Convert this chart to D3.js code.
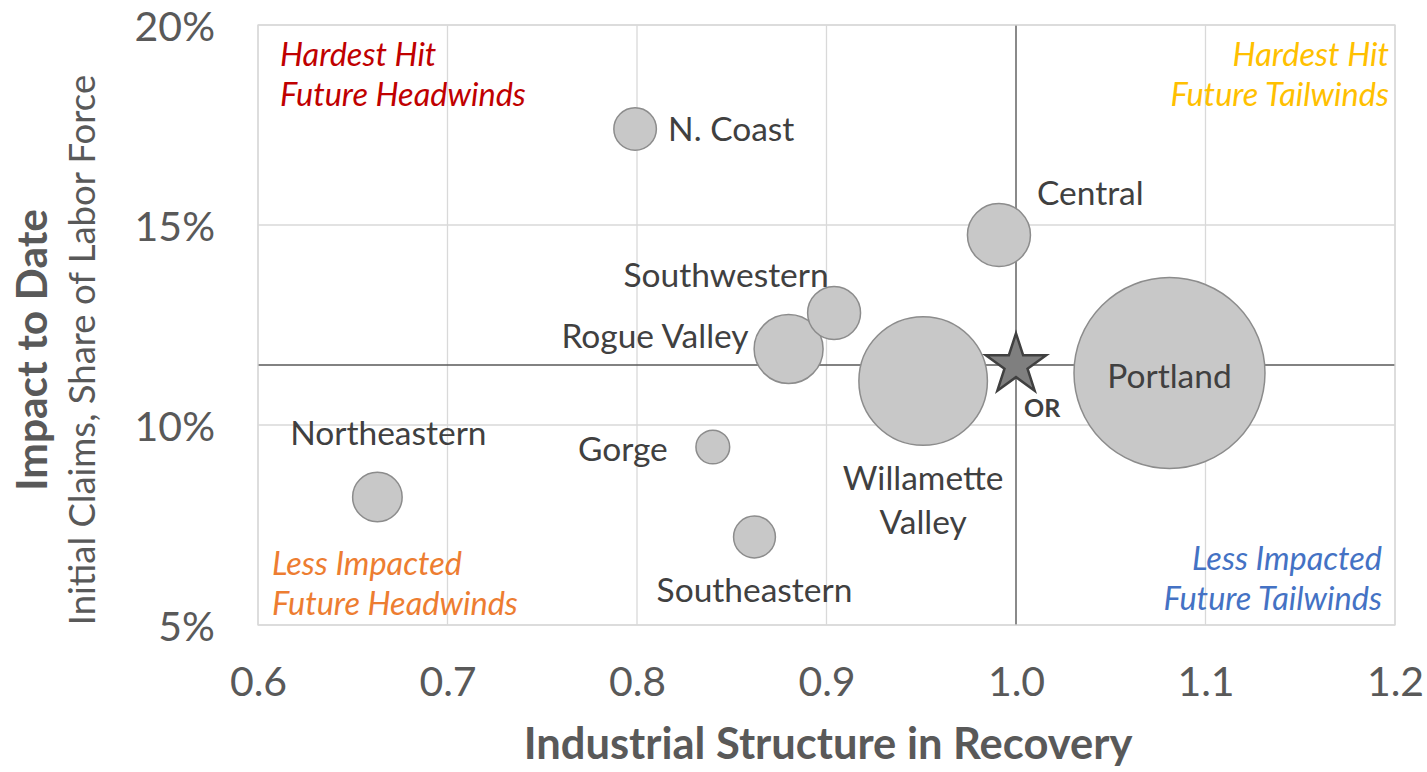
<!DOCTYPE html>
<html>
<head>
<meta charset="utf-8">
<script src="https://cdn.jsdelivr.net/npm/d3@7"></script>
<style>
body { margin: 0; background: #fff; }
text { font-family: Lato, "Open Sans", sans-serif; }
</style>
</head>
<body>
<div id="chart"></div>
<script>
// regions: industrial structure index, initial claims share (%), labor force (thousands, bubble size)
var regions = ["N. Coast", "Central", "Southwestern", "Rogue Valley", "Willamette Valley", "Portland", "Northeastern", "Gorge", "Southeastern"]
var structure = [0.799, 0.991, 0.904, 0.880, 0.951, 1.081, 0.663, 0.840, 0.862]
var claims = [17.4, 14.75, 12.8, 11.9, 11.1, 11.3, 8.2, 9.45, 7.2]
var laborForce = [62, 136, 96, 163, 566, 1250, 84, 39, 60]

var stateName = "OR"
var stateStructure = 1.0
var stateClaims = 11.5

var xTicks = [0.6, 0.7, 0.8, 0.9, 1.0, 1.1, 1.2]
var yTicks = [5, 10, 15, 20]

var quadrants = [
    {lines: ["Hardest Hit", "Future Headwinds"], color: "#c00000", corner: "tl"},
    {lines: ["Hardest Hit", "Future Tailwinds"], color: "#ffc000", corner: "tr"},
    {lines: ["Less Impacted", "Future Headwinds"], color: "#ed7d31", corner: "bl"},
    {lines: ["Less Impacted", "Future Tailwinds"], color: "#4472c4", corner: "br"}
]

// label placement relative to bubble center (layout only)
var labelPos = {
    "N. Coast": {dx: 33, dy: 0, anchor: "start"},
    "Central": {dx: 38, dy: -42, anchor: "start"},
    "Southwestern": {dx: -108, dy: -38, anchor: "middle"},
    "Rogue Valley": {dx: -40, dy: -13, anchor: "end"},
    "Willamette Valley": {dx: 0, dy: 97, anchor: "middle", split: true},
    "Portland": {dx: 0, dy: 3, anchor: "middle"},
    "Northeastern": {dx: 11, dy: -64, anchor: "middle"},
    "Gorge": {dx: -45, dy: 2, anchor: "end"},
    "Southeastern": {dx: 0, dy: 53, anchor: "middle"}
}

var W = 1427, H = 772
var margin = {top: 25, right: 32, bottom: 147, left: 258}
var width = W - margin.left - margin.right
var height = H - margin.top - margin.bottom

var svg = d3.select("#chart").append("svg").attr("width", W).attr("height", H)
var g = svg.append("g").attr("transform", "translate(" + margin.left + "," + margin.top + ")")

var x = d3.scaleLinear().domain([0.6, 1.2]).range([0, width])
var y = d3.scaleLinear().domain([5, 20]).range([height, 0])
var r = d3.scaleSqrt().domain([0, 1250]).range([0, 95.5])

// gridlines
g.selectAll(".vgrid").data(xTicks).enter().append("line").attr("class", "vgrid")
    .attr("x1", function(d) { return x(d) }).attr("x2", function(d) { return x(d) })
    .attr("y1", 0).attr("y2", height)
    .style("stroke", "#d9d9d9").style("stroke-width", 1.3)
g.selectAll(".hgrid").data(yTicks).enter().append("line").attr("class", "hgrid")
    .attr("x1", 0).attr("x2", width)
    .attr("y1", function(d) { return y(d) }).attr("y2", function(d) { return y(d) })
    .style("stroke", "#d9d9d9").style("stroke-width", 1.3)

// axes (labels only)
var xAxis = g.append("g").attr("transform", "translate(0," + height + ")")
    .call(d3.axisBottom(x).tickValues(xTicks).tickFormat(d3.format(".1f")).tickSize(0).tickPadding(42))
var yAxis = g.append("g")
    .call(d3.axisLeft(y).tickValues(yTicks).tickFormat(function(d) { return d + "%" }).tickSize(0).tickPadding(43))
xAxis.select(".domain").remove()
yAxis.select(".domain").remove()
xAxis.selectAll("text").style("font-size", "41px").style("fill", "#595959").style("font-family", "Lato")
yAxis.selectAll("text").style("font-size", "41px").style("fill", "#595959").style("font-family", "Lato").attr("dy", "0.38em")

// reference lines at state values
g.append("line").attr("x1", 0).attr("x2", width).attr("y1", y(stateClaims)).attr("y2", y(stateClaims))
    .style("stroke", "#595959").style("stroke-width", 1.3)
g.append("line").attr("x1", x(stateStructure)).attr("x2", x(stateStructure)).attr("y1", 0).attr("y2", height)
    .style("stroke", "#595959").style("stroke-width", 1.3)

// quadrant notes
quadrants.forEach(function(q) {
    var right = q.corner[1] == "r"
    var top = q.corner[0] == "t"
    var tx, ty
    if (top) { ty = 41; tx = right ? width - 6 : 22 }
    else if (right) { ty = 545; tx = width - 13 }
    else { ty = 550; tx = 14 }
    var t = g.append("text").attr("x", tx).attr("y", ty)
        .attr("text-anchor", right ? "end" : "start")
        .style("font-style", "italic").style("font-size", "32.5px").style("fill", q.color)
    q.lines.forEach(function(l, i) {
        t.append("tspan").attr("x", tx).attr("dy", i == 0 ? 0 : 40).text(l)
    })
})

var data = regions.map(function(name, i) {
    return {name: name, sx: structure[i], sy: claims[i], size: laborForce[i]}
})
data.sort(function(a, b) { return b.size - a.size })

g.selectAll(".bubble").data(data).enter().append("circle").attr("class", "bubble")
    .attr("cx", function(d) { return x(d.sx) })
    .attr("cy", function(d) { return y(d.sy) })
    .attr("r", function(d) { return r(d.size) })
    .style("fill", "#c8c8c8").style("stroke", "#8c8c8c").style("stroke-width", 1.5)

// bubble labels
data.forEach(function(d) {
    var p = labelPos[d.name]
    var cx = x(d.sx) + p.dx, cy = y(d.sy) + p.dy
    var t = g.append("text").attr("x", cx).attr("y", cy).attr("dy", "0.35em")
        .attr("text-anchor", p.anchor).style("font-size", "33.5px").style("fill", "#404040")
    if (p.split) {
        var parts = d.name.split(" ")
        t.append("tspan").attr("x", cx).text(parts[0])
        t.append("tspan").attr("x", cx).attr("dy", 44).text(parts[1])
    } else {
        t.text(d.name)
    }
})

// state star
g.append("path").attr("d", d3.symbol().type(d3.symbolStar).size(1130))
    .attr("transform", "translate(" + x(stateStructure) + "," + y(stateClaims) + ")")
    .style("fill", "#7f7f7f").style("stroke", "#404040").style("stroke-width", 2.5)
g.append("text").attr("x", x(stateStructure) + 8).attr("y", y(stateClaims) + 43).attr("dy", "0.35em")
    .style("font-size", "25px").style("font-weight", "bold").style("fill", "#404040").text(stateName)

// plot frame
g.append("rect").attr("width", width).attr("height", height)
    .style("fill", "none").style("stroke", "#d9d9d9").style("stroke-width", 1.3)

// axis titles
svg.append("text").attr("x", 828).attr("y", 759).attr("text-anchor", "middle")
    .style("font-size", "43.5px").style("font-weight", "bold").style("fill", "#595959")
    .text("Industrial Structure in Recovery")
svg.append("text").attr("transform", "translate(47,350) rotate(-90)").attr("text-anchor", "middle")
    .style("font-size", "42.5px").style("font-weight", "bold").style("fill", "#595959")
    .text("Impact to Date")
svg.append("text").attr("transform", "translate(95,350) rotate(-90)").attr("text-anchor", "middle")
    .style("font-size", "36.5px").style("fill", "#595959")
    .text("Initial Claims, Share of Labor Force")
</script>
</body>
</html>
